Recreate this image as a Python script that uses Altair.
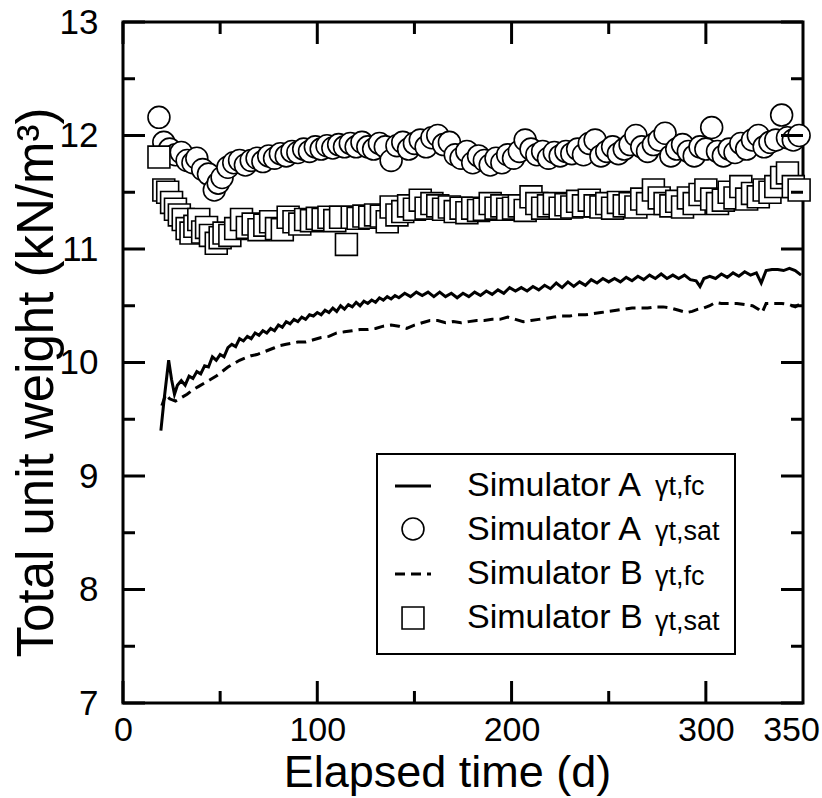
import altair as alt
import pandas as pd

# ---------------- data ----------------
# Simulator A, gamma_t,fc  (solid line)
a_fc_day = [19.5, 21, 23.5, 25, 26.5, 28, 30, 32, 34, 36, 38, 40, 42, 44, 46, 48, 50, 52, 54, 56, 58,
            60, 62, 64, 66, 68, 70, 72, 74, 76, 78, 80, 82, 84, 86, 88, 90, 92, 94, 96, 98, 100, 102,
            104, 106, 108, 110, 112, 114, 116, 118, 120, 122, 124, 126, 128, 130, 132, 134, 136, 138,
            140, 142, 145, 148, 151, 154, 157, 160, 163, 166, 169, 172, 175, 178, 181, 184, 187, 190,
            193, 196, 199, 202, 205, 208, 211, 214, 217, 220, 223, 226, 229, 232, 235, 238, 241, 244,
            247, 250, 253, 256, 259, 262, 265, 268, 271, 274, 277, 280, 283, 286, 289, 292, 295, 297,
            299, 302, 305, 308, 311, 314, 317, 320, 323, 326, 328.5, 331, 334, 337, 340, 343, 346, 349]
a_fc_val = [9.40, 9.65, 10.02, 9.85, 9.72, 9.80, 9.84, 9.80, 9.88, 9.86, 9.92, 9.90, 9.97, 9.96, 10.05,
            10.02, 10.07, 10.05, 10.13, 10.16, 10.14, 10.21, 10.19, 10.23, 10.21, 10.26, 10.24, 10.28,
            10.26, 10.30, 10.28, 10.33, 10.31, 10.36, 10.34, 10.38, 10.36, 10.40, 10.38, 10.42, 10.41,
            10.44, 10.42, 10.46, 10.44, 10.48, 10.45, 10.50, 10.47, 10.51, 10.49, 10.53, 10.50, 10.54,
            10.52, 10.55, 10.53, 10.57, 10.55, 10.58, 10.56, 10.59, 10.57, 10.61, 10.58, 10.62, 10.59,
            10.62, 10.58, 10.62, 10.58, 10.61, 10.57, 10.61, 10.58, 10.62, 10.59, 10.63, 10.60, 10.64,
            10.61, 10.66, 10.63, 10.66, 10.63, 10.67, 10.64, 10.68, 10.65, 10.70, 10.66, 10.71, 10.67,
            10.71, 10.68, 10.73, 10.70, 10.74, 10.71, 10.74, 10.71, 10.75, 10.72, 10.76, 10.73, 10.77,
            10.74, 10.78, 10.74, 10.77, 10.74, 10.77, 10.73, 10.72, 10.67, 10.74, 10.76, 10.74, 10.78,
            10.75, 10.79, 10.76, 10.80, 10.77, 10.79, 10.70, 10.81, 10.82, 10.82, 10.81, 10.83, 10.81,
            10.77]

# Simulator B, gamma_t,fc  (dashed line)
b_fc_day = [20, 22, 24, 27, 30, 33, 36, 39, 42, 45, 48, 51, 54, 57, 60, 63, 66, 69, 72, 75, 78, 81, 84,
            87, 90, 94, 98, 102, 106, 110, 114, 118, 122, 126, 130, 134, 138, 142, 146, 150, 154, 158,
            162, 166, 170, 174, 178, 182, 186, 190, 194, 198, 202, 206, 210, 214, 218, 222, 226, 230,
            234, 238, 242, 246, 250, 254, 258, 262, 266, 270, 274, 278, 282, 286, 290, 293, 296, 299,
            302, 305, 308, 312, 316, 320, 324, 327, 329, 331, 335, 339, 343, 346, 349]
b_fc_val = [9.62, 9.72, 9.68, 9.66, 9.69, 9.72, 9.76, 9.79, 9.82, 9.85, 9.88, 9.92, 9.96, 9.99, 10.02,
            10.04, 10.06, 10.07, 10.09, 10.11, 10.13, 10.15, 10.16, 10.17, 10.18, 10.18, 10.20, 10.22,
            10.23, 10.26, 10.27, 10.28, 10.29, 10.29, 10.30, 10.32, 10.33, 10.32, 10.30, 10.33, 10.35,
            10.37, 10.37, 10.35, 10.36, 10.35, 10.36, 10.37, 10.37, 10.38, 10.38, 10.40, 10.38, 10.36,
            10.37, 10.38, 10.39, 10.40, 10.41, 10.41, 10.42, 10.42, 10.43, 10.44, 10.45, 10.46, 10.47,
            10.48, 10.48, 10.48, 10.49, 10.49, 10.48, 10.46, 10.44, 10.45, 10.47, 10.48, 10.50, 10.53,
            10.52, 10.52, 10.52, 10.51, 10.50, 10.47, 10.44, 10.52, 10.52, 10.52, 10.51, 10.49, 10.52]

# Simulator A, gamma_t,sat  (circles)
a_sat_day = [18.5, 21, 24, 27, 30, 33, 36, 38, 41, 44, 47, 49, 51, 54, 57, 60, 63, 66, 69, 72, 75, 78,
             81, 84, 87, 90, 93, 96, 99, 102, 105, 108, 111, 114, 117, 120, 123, 126, 129, 132, 135,
             138, 141, 144, 147, 150, 153, 156, 159, 162, 165, 168, 171, 174, 177, 180, 183, 186, 189,
             192, 195, 198, 201, 204, 207, 210, 213, 216, 219, 222, 225, 228, 231, 234, 237, 240, 243,
             246, 249, 252, 255, 258, 261, 264, 267, 270, 273, 276, 279, 282, 285, 288, 291, 294, 297,
             300, 303, 306, 309, 312, 315, 318, 321, 324, 327, 330, 333, 336, 339, 342, 345, 348]
a_sat_val = [12.16, 11.94, 11.88, 11.83, 11.85, 11.78, 11.76, 11.80, 11.70, 11.66, 11.52, 11.58, 11.63,
             11.72, 11.76, 11.78, 11.74, 11.78, 11.80, 11.77, 11.82, 11.80, 11.84, 11.82, 11.86, 11.85,
             11.88, 11.86, 11.90, 11.88, 11.91, 11.89, 11.92, 11.90, 11.93, 11.90, 11.94, 11.90, 11.88,
             11.93, 11.90, 11.78, 11.91, 11.94, 11.88, 11.93, 11.96, 11.90, 11.98, 12.00, 11.92, 11.94,
             11.83, 11.80, 11.86, 11.76, 11.82, 11.78, 11.74, 11.80, 11.76, 11.83, 11.80, 11.86, 11.96,
             11.88, 11.83, 11.86, 11.80, 11.85, 11.82, 11.86, 11.84, 11.88, 11.83, 11.93, 11.96, 11.82,
             11.86, 11.90, 11.84, 11.88, 11.92, 12.00, 11.90, 11.86, 11.92, 11.96, 12.02, 11.82, 11.88,
             11.92, 11.86, 11.82, 11.90, 11.88, 12.07, 11.86, 11.82, 11.88, 11.85, 11.93, 11.88, 11.96,
             12.00, 11.90, 11.94, 11.96, 12.18, 11.98, 11.96, 12.00]

# Simulator B, gamma_t,sat  (squares)
b_sat_day = [18.5, 21, 23, 25, 27, 29, 31, 33, 35, 37, 39, 41, 43, 45, 48, 50, 52, 55, 58, 61, 64, 67,
             70, 73, 76, 79, 82, 85, 88, 91, 94, 97, 100, 103, 106, 109, 112, 115, 118, 121, 124, 127,
             130, 133, 136, 138, 141, 144, 147, 150, 153, 156, 159, 162, 165, 168, 171, 174, 177, 180,
             183, 186, 189, 192, 195, 198, 201, 204, 207, 210, 213, 216, 219, 222, 225, 228, 231, 234,
             237, 240, 243, 246, 249, 252, 255, 258, 261, 264, 267, 270, 273, 276, 279, 282, 285, 288,
             291, 294, 297, 300, 303, 306, 309, 312, 315, 318, 321, 324, 327, 330, 333, 336, 339, 342,
             345, 348]
b_sat_val = [11.81, 11.52, 11.50, 11.41, 11.35, 11.30, 11.26, 11.18, 11.14, 11.20, 11.26, 11.15, 11.19,
             11.12, 11.05, 11.10, 11.14, 11.12, 11.18, 11.26, 11.19, 11.22, 11.17, 11.21, 11.24, 11.18,
             11.17, 11.28, 11.24, 11.22, 11.26, 11.25, 11.27, 11.26, 11.28, 11.25, 11.28, 11.04, 11.28,
             11.27, 11.29, 11.28, 11.30, 11.29, 11.24, 11.37, 11.30, 11.33, 11.38, 11.35, 11.43, 11.36,
             11.40, 11.38, 11.35, 11.37, 11.33, 11.36, 11.32, 11.36, 11.34, 11.35, 11.40, 11.36, 11.38,
             11.35, 11.36, 11.38, 11.34, 11.46, 11.40, 11.36, 11.38, 11.40, 11.36, 11.39, 11.37, 11.42,
             11.38, 11.43, 11.38, 11.37, 11.40, 11.36, 11.41, 11.38, 11.40, 11.37, 11.44, 11.40, 11.52,
             11.45, 11.40, 11.38, 11.42, 11.37, 11.45, 11.40, 11.48, 11.52, 11.44, 11.40, 11.43, 11.50,
             11.45, 11.55, 11.44, 11.49, 11.46, 11.52, 11.50, 11.55, 11.63, 11.67, 11.55, 11.52]

SERIES = ["Simulator A", "Simulator A ", "Simulator B", "Simulator B "]
SUBS = ["1\u03b3t,fc", "2\u03b3t,sat", "3\u03b3t,fc", "4\u03b3t,sat"]

x_label_values = [0, 100, 200, 300, 350]
x_major = [0, 100, 200, 300]
x_minor = [50, 150, 250]
y_label_values = [7, 8, 9, 10, 11, 12, 13]
y_minor = [7.5, 8.5, 9.5, 10.5, 11.5, 12.5]

X_DOM = [0, 350]
Y_DOM = [7, 13]
W, H = 680, 681
MAJ, MIN = 22, 12   # tick lengths in pixels


def frame(days, vals, i):
    return pd.DataFrame({"day": days, "val": vals, "series": SERIES[i], "sub": SUBS[i]})


a_line = frame(a_fc_day, a_fc_val, 0)
b_line = frame(b_fc_day, b_fc_val, 2)
pts = pd.concat([frame(a_sat_day, a_sat_val, 1), frame(b_sat_day, b_sat_val, 3)], ignore_index=True)
alld = pd.concat([a_line, b_line, pts], ignore_index=True)

# inward tick tables built from the tick value lists (tick length converted to data units)
px_x = (X_DOM[1] - X_DOM[0]) / W
px_y = (Y_DOM[1] - Y_DOM[0]) / H
xt_rows = []
for vals, ln in ((x_major, MAJ), (x_minor, MIN)):
    for v in vals:
        xt_rows.append({"v": v, "a": Y_DOM[0], "b": Y_DOM[0] + ln * px_y})
        xt_rows.append({"v": v, "a": Y_DOM[1], "b": Y_DOM[1] - ln * px_y})
yt_rows = []
for vals, ln in ((y_label_values, MAJ), (y_minor, MIN)):
    for v in vals:
        yt_rows.append({"v": v, "a": X_DOM[0], "b": X_DOM[0] + ln * px_x})
        yt_rows.append({"v": v, "a": X_DOM[1], "b": X_DOM[1] - ln * px_x})
xt = pd.DataFrame(xt_rows)
yt = pd.DataFrame(yt_rows)

FONT = "Liberation Sans"
xscale = alt.Scale(domain=X_DOM, nice=False, zero=False)
yscale = alt.Scale(domain=Y_DOM, nice=False, zero=False)
shape_scale = alt.Scale(domain=[SERIES[1], SERIES[3]], range=["circle", "square"])

x_axis = alt.Axis(orient="bottom", values=x_label_values, ticks=False, tickSize=0,
                  domain=False, grid=False, format="d", labelFontSize=34, labelPadding=10,
                  labelFlush=False, labelOverlap=False,
                  labelOffset={"condition": {"test": "datum.value == 350", "value": -12},
                               "value": 0},
                  title="Elapsed time (d)", titleFontSize=45, titleX=324, titleY=69,
                  titleBaseline="middle", titleAlign="center")
y_axis = alt.Axis(orient="left", values=y_label_values, ticks=False, tickSize=0,
                  domain=False, grid=False, format="d", labelFontSize=35, labelPadding=25,
                  labelFlush=False, labelOverlap=False,
                  title="Total unit weight (kN/m\u00b3)", titleFontSize=51, titleX=-86,
                  titleY=360, titleBaseline="middle", titleAlign="center", titleAngle=270)
# the axes are drawn by the first (line) layer only; the others have none
X_lab = alt.X("day:Q", scale=xscale, axis=x_axis)
Y_lab = alt.Y("val:Q", scale=yscale, axis=y_axis)
X = alt.X("day:Q", scale=xscale, axis=None)
Y = alt.Y("val:Q", scale=yscale, axis=None)

LEG_Y = 432
# main legend: the "Simulator ..." labels (its keys are drawn by the key layers below)
leg_main = alt.Legend(orient="none", legendX=254, legendY=LEG_Y, title=None,
                      labelFont=FONT, labelFontSize=34, labelColor="black", labelLimit=0,
                      symbolType="square", symbolSize=560, symbolOpacity=0, padding=15,
                      rowPadding=10, symbolOffset=8, labelOffset=33)
# second legend: the gamma sub-labels, and the frame around the whole legend
leg_sub = alt.Legend(orient="none", legendX=254, legendY=LEG_Y, title=None,
                     labelExpr="substring(datum.label, 1)", labelLimit=0,
                     labelFont=FONT, labelFontSize=27, labelColor="black",
                     symbolType="square", symbolSize=1156, symbolOpacity=0,
                     padding=15, rowPadding=10, symbolOffset=0, labelOffset=227,
                     strokeColor="black")

a_line_layer = alt.Chart(a_line).mark_line(strokeWidth=3, color="black").encode(
    x=X_lab, y=Y_lab, order="day:Q")
b_line_layer = alt.Chart(b_line).mark_line(strokeWidth=3, color="black",
                                           strokeDash=[10, 6]).encode(x=X, y=Y, order="day:Q")

point_layer = alt.Chart(pts).mark_point(filled=False, fill="white", fillOpacity=1, size=480,
                                        strokeWidth=1.6, color="black").encode(
    x=X, y=Y,
    shape=alt.Shape("series:N", scale=shape_scale, legend=None),
)

# invisible layers carrying the two legends' texts
main_leg_layer = alt.Chart(alld).mark_point(opacity=0).encode(
    x=X, y=Y,
    stroke=alt.Stroke("series:N", scale=alt.Scale(domain=SERIES, range=["black"] * 4),
                      legend=leg_main),
)
sub_leg_layer = alt.Chart(alld).mark_point(opacity=0).encode(
    x=X, y=Y,
    color=alt.Color("sub:N", scale=alt.Scale(domain=SUBS, range=["black"] * 4), legend=leg_sub),
)

# inward ticks on all four sides, through the chart's own scales
xtick_layer = alt.Chart(xt).mark_rule(strokeWidth=3, color="black").encode(
    x=alt.X("v:Q", scale=xscale, axis=None),
    y=alt.Y("a:Q", scale=yscale, axis=None), y2="b:Q")
ytick_layer = alt.Chart(yt).mark_rule(strokeWidth=3, color="black").encode(
    y=alt.Y("v:Q", scale=yscale, axis=None),
    x=alt.X("a:Q", scale=xscale, axis=None), x2="b:Q")

# legend keys (pixel positions inside the legend box)
KEY_X = 290
rows = [LEG_Y + 32, LEG_Y + 75, LEG_Y + 120, LEG_Y + 164]


def key_line(i, dash):
    ch = alt.Chart(pd.DataFrame({"series": [SERIES[i]]}))
    mk = ch.mark_rule(strokeWidth=3, color="black", strokeDash=dash) if dash else \
        ch.mark_rule(strokeWidth=3, color="black")
    return mk.encode(x=alt.value(KEY_X - 18), x2=alt.value(KEY_X + 18), y=alt.value(rows[i]))


def key_point(i, shape):
    return alt.Chart(pd.DataFrame({"series": [SERIES[i]]})).mark_point(
        shape=shape, size=480, filled=False, fill="white", fillOpacity=1, strokeWidth=1.6,
        color="black").encode(x=alt.value(KEY_X), y=alt.value(rows[i]))


layers = [
    a_line_layer,
    b_line_layer,
    point_layer,
    main_leg_layer,
    sub_leg_layer,
    xtick_layer,
    ytick_layer,
    key_line(0, None), key_point(1, "circle"), key_line(2, [10, 6]), key_point(3, "square"),
]

chart = alt.layer(*layers).resolve_axis(x="independent", y="independent").properties(
    width=W, height=H,
    padding={"left": 123, "top": 22, "right": 19, "bottom": 95},
    autosize=alt.AutoSizeParams(type="none"),
    background="white",
).configure_view(stroke="black", strokeWidth=3).configure_axis(
    labelFont=FONT, titleFont=FONT, labelColor="black", titleColor="black",
    titleFontWeight="normal",
).configure_legend(labelFont=FONT, strokeWidth=2)

chart.save("out.html", embed_options={"renderer": "svg", "actions": False})
